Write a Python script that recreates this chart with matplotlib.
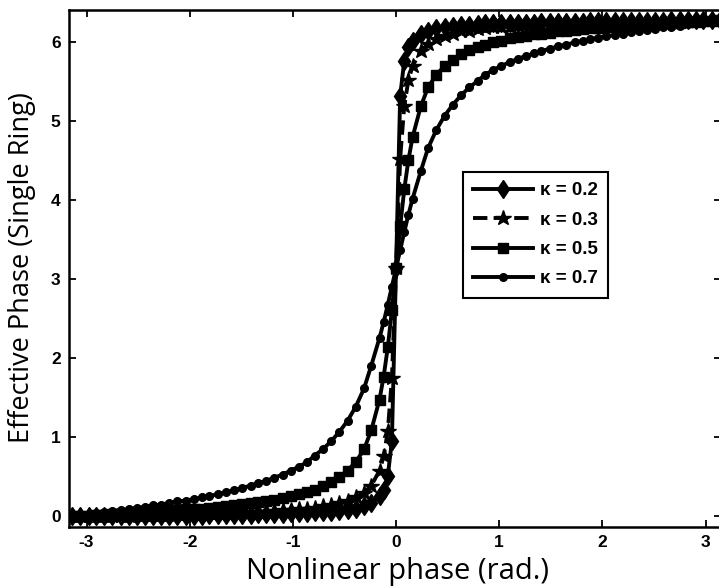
import numpy as np
import matplotlib
matplotlib.use("Agg")
import matplotlib.pyplot as plt

# nonlinear phase samples (rad.)
phi = [-3.14, -3.06, -2.98, -2.91, -2.83, -2.75, -2.67, -2.59, -2.51, -2.43,
       -2.36, -2.28, -2.20, -2.12, -2.04, -1.96, -1.88, -1.81, -1.73, -1.65,
       -1.57, -1.49, -1.41, -1.34, -1.26, -1.18, -1.10, -1.02, -0.94, -0.86,
       -0.79, -0.71, -0.63, -0.55, -0.47, -0.39, -0.31, -0.24, -0.16, -0.12,
       -0.08, -0.04, 0.00, 0.04, 0.08, 0.12, 0.16, 0.24, 0.31, 0.39,
       0.47, 0.55, 0.63, 0.71, 0.79, 0.86, 0.94, 1.02, 1.10, 1.18,
       1.26, 1.34, 1.41, 1.49, 1.57, 1.65, 1.73, 1.81, 1.88, 1.96,
       2.04, 2.12, 2.20, 2.28, 2.36, 2.43, 2.51, 2.59, 2.67, 2.75,
       2.83, 2.91, 2.98, 3.06, 3.14]

# effective phase of a single ring for each coupling coefficient
phase_k02 = [0.00, 0.00, 0.00, 0.00, 0.00, 0.00, 0.00, 0.01, 0.01, 0.01,
             0.01, 0.01, 0.01, 0.01, 0.01, 0.01, 0.01, 0.02, 0.02, 0.02,
             0.02, 0.02, 0.02, 0.03, 0.03, 0.03, 0.03, 0.04, 0.04, 0.04,
             0.05, 0.06, 0.06, 0.07, 0.08, 0.10, 0.13, 0.17, 0.26, 0.34,
             0.51, 0.96, 3.14, 5.32, 5.77, 5.94, 6.02, 6.11, 6.15, 6.18,
             6.20, 6.21, 6.22, 6.22, 6.23, 6.24, 6.24, 6.24, 6.25, 6.25,
             6.25, 6.25, 6.26, 6.26, 6.26, 6.26, 6.26, 6.26, 6.27, 6.27,
             6.27, 6.27, 6.27, 6.27, 6.27, 6.27, 6.27, 6.27, 6.28, 6.28,
             6.28, 6.28, 6.28, 6.28, 6.28]

phase_k03 = [0.00, 0.00, 0.00, 0.01, 0.01, 0.01, 0.01, 0.01, 0.02, 0.02,
             0.02, 0.02, 0.02, 0.03, 0.03, 0.03, 0.03, 0.04, 0.04, 0.04,
             0.05, 0.05, 0.06, 0.06, 0.06, 0.07, 0.08, 0.08, 0.09, 0.10,
             0.11, 0.13, 0.14, 0.17, 0.20, 0.24, 0.30, 0.39, 0.58, 0.76,
             1.08, 1.75, 3.14, 4.53, 5.20, 5.52, 5.70, 5.89, 5.98, 6.04,
             6.08, 6.11, 6.14, 6.15, 6.17, 6.18, 6.19, 6.20, 6.20, 6.21,
             6.22, 6.22, 6.22, 6.23, 6.23, 6.24, 6.24, 6.24, 6.25, 6.25,
             6.25, 6.25, 6.26, 6.26, 6.26, 6.26, 6.26, 6.27, 6.27, 6.27,
             6.27, 6.27, 6.28, 6.28, 6.28]

phase_k05 = [0.00, 0.01, 0.01, 0.02, 0.02, 0.03, 0.03, 0.04, 0.05, 0.05,
             0.06, 0.07, 0.07, 0.08, 0.09, 0.10, 0.10, 0.11, 0.12, 0.13,
             0.14, 0.16, 0.17, 0.18, 0.20, 0.21, 0.23, 0.26, 0.28, 0.31,
             0.34, 0.38, 0.43, 0.50, 0.58, 0.69, 0.85, 1.09, 1.48, 1.77,
             2.14, 2.61, 3.14, 3.67, 4.14, 4.51, 4.80, 5.19, 5.43, 5.59,
             5.70, 5.78, 5.85, 5.90, 5.94, 5.97, 6.00, 6.02, 6.05, 6.07,
             6.08, 6.10, 6.11, 6.12, 6.14, 6.15, 6.16, 6.17, 6.18, 6.18,
             6.19, 6.20, 6.21, 6.21, 6.22, 6.23, 6.23, 6.24, 6.25, 6.25,
             6.26, 6.26, 6.27, 6.27, 6.28]

phase_k07 = [0.00, 0.01, 0.03, 0.04, 0.05, 0.07, 0.08, 0.09, 0.11, 0.12,
             0.14, 0.15, 0.17, 0.19, 0.20, 0.22, 0.24, 0.26, 0.28, 0.31,
             0.33, 0.36, 0.39, 0.42, 0.45, 0.49, 0.53, 0.58, 0.63, 0.69,
             0.77, 0.85, 0.95, 1.07, 1.21, 1.39, 1.62, 1.91, 2.26, 2.46,
             2.68, 2.91, 3.14, 3.37, 3.60, 3.82, 4.02, 4.37, 4.66, 4.89,
             5.07, 5.21, 5.33, 5.43, 5.51, 5.59, 5.65, 5.70, 5.75, 5.79,
             5.83, 5.86, 5.89, 5.92, 5.95, 5.97, 6.00, 6.02, 6.04, 6.06,
             6.08, 6.09, 6.11, 6.13, 6.14, 6.16, 6.17, 6.19, 6.20, 6.21,
             6.23, 6.24, 6.25, 6.27, 6.28]

labels = ["κ = 0.2", "κ = 0.3", "κ = 0.5", "κ = 0.7"]
xticks = [-3, -2, -1, 0, 1, 2, 3]
yticks = [0, 1, 2, 3, 4, 5, 6]

plt.rcParams["font.family"] = ["Liberation Sans", "DejaVu Sans"]
plt.rcParams["axes.unicode_minus"] = False

fig = plt.figure(figsize=(7.19, 5.88), dpi=100)
ax = fig.add_axes([69 / 719, 61.3 / 588, 652 / 719, 516.7 / 588])

ax.plot(phi, phase_k02, "-", color="black", lw=2.8, marker="d", ms=9.5, label=labels[0])
ax.plot(phi, phase_k03, "--", color="black", lw=2.8, marker="*", ms=11.5, label=labels[1])
ax.plot(phi, phase_k05, "-", color="black", lw=2.8, marker="s", ms=7.5, label=labels[2])
ax.plot(phi, phase_k07, "-", color="black", lw=2.8, marker="o", ms=5.5, label=labels[3])

ax.set_xlim(-3.17, 3.15)
ax.set_ylim(-0.13, 6.41)
ax.set_xticks(xticks)
ax.set_yticks(yticks)
ax.tick_params(direction="in", length=5, width=1.3, top=True, right=True,
               labelsize=12.5, pad=6)
for lab in ax.get_xticklabels() + ax.get_yticklabels():
    lab.set_fontweight("bold")
for sp in ax.spines.values():
    sp.set_linewidth(1.8)

ax.set_xlabel("Nonlinear phase (rad.)", fontsize=21, family=["Open Sans", "DejaVu Sans"])
ax.set_ylabel("Effective Phase (Single Ring)", fontsize=19.5, family=["Open Sans", "DejaVu Sans"])
ax.xaxis.set_label_coords((397 - 69) / 652, -(571 - 526.7) / 516.7)
ax.yaxis.set_label_coords(-(69 - 22) / 652, (526.7 - 268) / 516.7)
ax.xaxis.label.set_va("center")
ax.yaxis.label.set_va("center")

leg = ax.legend(loc="upper left", bbox_to_anchor=(463 / 719, 1 - 172 / 588),
                bbox_transform=fig.transFigure, numpoints=1, borderaxespad=0,
                handlelength=3.2, handletextpad=0.35, labelspacing=0.65,
                borderpad=0.55, fancybox=False, framealpha=1, edgecolor="black",
                prop={"weight": "bold", "size": 13.5})
leg.get_frame().set_linewidth(1.5)

fig.savefig("out.png", dpi=100)
